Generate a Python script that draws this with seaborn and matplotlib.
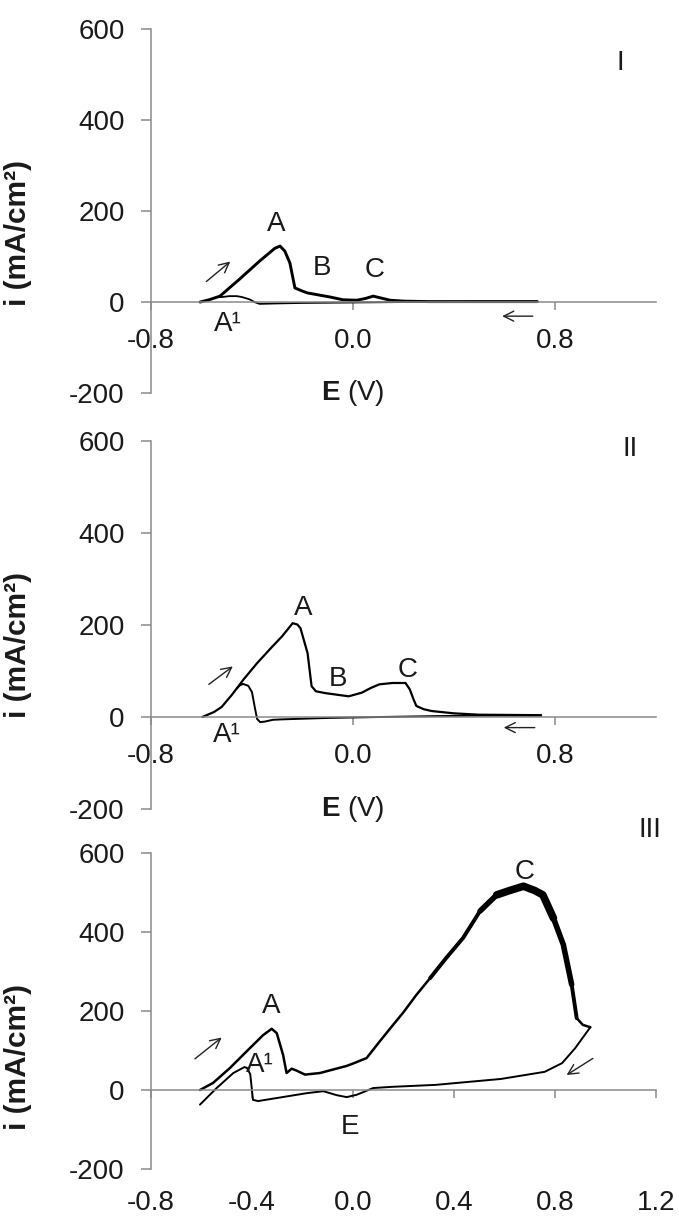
import matplotlib
matplotlib.use("Agg")
import matplotlib.pyplot as plt
import pandas as pd
import seaborn as sns

# ---------------- data ----------------
# Panel I
p1_fwd_E = [-0.606, -0.57, -0.527, -0.45, -0.37, -0.31, -0.289, -0.27, -0.25, -0.23, -0.20, -0.18,
            -0.13, -0.09, -0.04, 0.015, 0.05, 0.08, 0.11, 0.147, 0.2, 0.3, 0.5, 0.73]
p1_fwd_i = [0, 5, 13, 50, 90, 118, 123, 112, 86, 31, 24, 20, 15, 11, 5, 4, 8, 13, 9, 4, 2, 1, 1, 1]
p1_rev_E = [0.73, 0.5, 0.2, 0.0, -0.2, -0.3, -0.37, -0.39, -0.41, -0.44, -0.46, -0.49, -0.52, -0.54]
p1_rev_i = [1, 1, 0, -1, -2, -3, -4, 0, 6, 11, 13, 13, 11, 11]

# Panel II
p2_fwd_E = [-0.597, -0.58, -0.55, -0.52, -0.48, -0.433, -0.38, -0.33, -0.28, -0.239, -0.22, -0.208,
            -0.18, -0.164, -0.147, -0.11, -0.07, -0.017, 0.035, 0.07, 0.104, 0.156, 0.208, 0.225,
            0.24, 0.251, 0.28, 0.312, 0.4, 0.5, 0.745]
p2_fwd_i = [0, 4, 11, 22, 48, 82, 117, 147, 176, 204, 201, 193, 139, 67, 56, 52, 49, 45, 53, 63,
            71, 74, 74, 60, 38, 24, 17, 13, 8, 5, 4]
p2_rev_E = [0.745, 0.5, 0.33, 0.1, -0.1, -0.277, -0.317, -0.35, -0.368, -0.38, -0.39, -0.40,
            -0.415, -0.436, -0.45, -0.46]
p2_rev_i = [3, 3, 2, 0, -2, -5, -6, -10, -11, -4, 24, 54, 68, 72, 68, 62]

# Panel III
p3_fwd_E = [-0.606, -0.554, -0.487, -0.421, -0.356, -0.322, -0.302, -0.277, -0.263, -0.243, -0.223,
            -0.19, -0.131, -0.025, 0.0, 0.054, 0.107, 0.15, 0.2, 0.25, 0.305, 0.37, 0.436, 0.503,
            0.569, 0.62, 0.675, 0.72, 0.752, 0.794, 0.833, 0.866, 0.886, 0.91, 0.94]
p3_fwd_i = [0, 18, 56, 98, 139, 155, 144, 89, 43, 54, 49, 39, 43, 61, 67, 81, 124, 158, 197, 240,
            283, 335, 385, 453, 494, 505, 516, 505, 494, 435, 368, 267, 182, 165, 159]
p3_rev_E = [0.94, 0.88, 0.828, 0.759, 0.586, 0.327, 0.154, 0.08, 0.015, -0.025, -0.065, -0.118,
            -0.183, -0.376, -0.396, -0.402, -0.407, -0.42, -0.43, -0.474, -0.54, -0.606]
p3_rev_i = [159, 106, 68, 46, 28, 13, 8, 5, -12, -18, -13, -3, -8, -28, -25, 10, 40, 56, 58, 43, 5, -37]

y_ticks = [-200, 0, 200, 400, 600]
x_ticks_12 = [-0.8, 0.0, 0.8]
x_ticks_3 = [-0.8, -0.4, 0.0, 0.4, 0.8, 1.2]

# annotations: (text, E, i)
p1_labels = [("A", -0.305, 172), ("B", -0.124, 75), ("C", 0.086, 71), ("A¹", -0.495, -48), ("I", 1.06, 525)]
p2_labels = [("A", -0.198, 237), ("B", -0.06, 82), ("C", 0.216, 103), ("A¹", -0.50, -38), ("II", 1.097, 583)]
p3_labels = [("A", -0.326, 212), ("A¹", -0.37, 64), ("C", 0.681, 553), ("E", -0.01, -93), ("III", 1.176, 658)]
# arrows: (E_start, i_start, E_end, i_end)
p1_arrows = [(-0.581, 45, -0.486, 89), (0.712, -31, 0.591, -31)]
p2_arrows = [(-0.571, 71, -0.476, 110), (0.72, -23, 0.597, -23)]
p3_arrows = [(-0.626, 79, -0.52, 133), (0.95, 80, 0.846, 38)]

# ---------------- style ----------------
sns.set_theme(style="white")
plt.rcParams["font.family"] = ["Liberation Sans", "DejaVu Sans"]
plt.rcParams["mathtext.fontset"] = "custom"
plt.rcParams["mathtext.rm"] = "Liberation Sans"
plt.rcParams["mathtext.bf"] = "Liberation Sans:bold"

GRAY = "#8a8a8a"
TXT = "#1a1a1a"
FS = 20

fig = plt.figure(figsize=(6.79, 12.26), dpi=100)
ax1 = fig.add_axes([0.2224, 0.6794, 0.7437, 0.2969])
ax2 = fig.add_axes([0.2224, 0.3401, 0.7437, 0.3002])
ax3 = fig.add_axes([0.2224, 0.0465, 0.7437, 0.2577])

LINE_KW = dict(sort=False, estimator=None, color="black", solid_joinstyle="round",
               solid_capstyle="round")


def draw(ax, fE, fi, rE, ri, lw_f, lw_r):
    df_f = pd.DataFrame({"E": fE, "i": fi})
    df_r = pd.DataFrame({"E": rE, "i": ri})
    sns.lineplot(data=df_f, x="E", y="i", lw=lw_f, ax=ax, **LINE_KW)
    sns.lineplot(data=df_r, x="E", y="i", lw=lw_r, ax=ax, **LINE_KW)
    return df_f


def style(ax, xticks, xpad, ylabel_y, xlabel):
    ax.set_xlim(-0.8, 1.2)
    ax.set_ylim(-200, 600)
    ax.spines["top"].set_visible(False)
    ax.spines["right"].set_visible(False)
    ax.spines["left"].set_color(GRAY)
    ax.spines["left"].set_linewidth(1.1)
    ax.spines["bottom"].set_position(("data", 0))
    ax.spines["bottom"].set_color(GRAY)
    ax.spines["bottom"].set_linewidth(1.1)
    ax.set_xticks(xticks)
    ax.set_xticklabels([f"{v:.1f}" for v in xticks])
    ax.set_yticks(y_ticks)
    ax.set_yticklabels([str(v) for v in y_ticks])
    ax.tick_params(axis="y", which="major", left=True, direction="out", length=7, width=1.1,
                   color=GRAY, pad=12, labelsize=FS, labelcolor=TXT)
    ax.tick_params(axis="x", which="major", bottom=True, direction="out", length=6, width=1.1,
                   color=GRAY, pad=xpad, labelsize=FS, labelcolor=TXT)
    ax.set_ylabel("i (mA/cm²)", fontsize=21.5, fontweight="bold", color=TXT)
    ax.yaxis.set_label_coords(-0.236, ylabel_y)
    if xlabel:
        ax.set_xlabel(r"$\mathbf{E}$ (V)", fontsize=FS, color=TXT)
        ax.xaxis.set_label_coords(0.4, 0.0)
        ax.xaxis.label.set_va("center")
    else:
        ax.set_xlabel("")


def annotate(ax, labels, arrows):
    for t, x, y in labels:
        ax.text(x, y, t, ha="center", va="center", fontsize=FS, color=TXT, clip_on=False)
    for x0, y0, x1, y1 in arrows:
        ax.annotate("", xy=(x1, y1), xytext=(x0, y0),
                    arrowprops=dict(arrowstyle="->,head_length=0.6,head_width=0.3", lw=1.0,
                                    color="#222222", shrinkA=0, shrinkB=0))


draw(ax1, p1_fwd_E, p1_fwd_i, p1_rev_E, p1_rev_i, 2.1, 1.3)
style(ax1, x_ticks_12, 13, 0.441, True)
annotate(ax1, p1_labels, p1_arrows)

draw(ax2, p2_fwd_E, p2_fwd_i, p2_rev_E, p2_rev_i, 1.6, 1.4)
style(ax2, x_ticks_12, 13, 0.446, True)
annotate(ax2, p2_labels, p2_arrows)

df3 = draw(ax3, p3_fwd_E, p3_fwd_i, p3_rev_E, p3_rev_i, 1.8, 1.4)
# noisy (thick) part of the anodic peak C
sns.lineplot(data=df3[(df3.E >= 0.3) & (df3.E <= 0.9)], x="E", y="i", lw=2.8, ax=ax3, **LINE_KW)
sns.lineplot(data=df3[(df3.E >= 0.5) & (df3.E <= 0.87)], x="E", y="i", lw=4.0, ax=ax3, **LINE_KW)
sns.lineplot(data=df3[(df3.E >= 0.56) & (df3.E <= 0.8)], x="E", y="i", lw=5.5, ax=ax3, **LINE_KW)
style(ax3, x_ticks_3, 66, 0.356, False)
annotate(ax3, p3_labels, p3_arrows)

fig.savefig("out.png", dpi=100)
